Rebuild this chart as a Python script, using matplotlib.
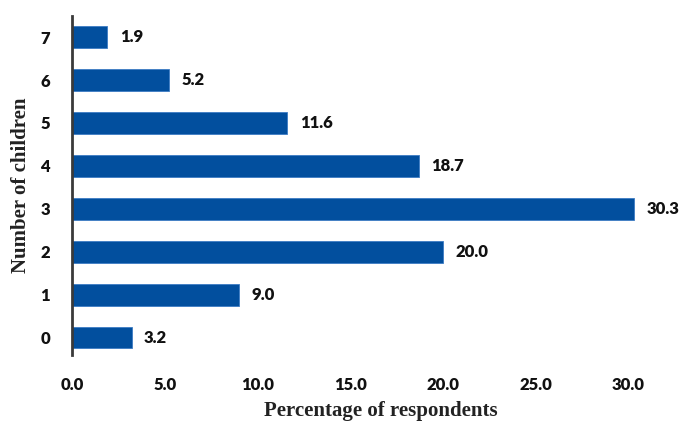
import matplotlib
matplotlib.use("Agg")
import matplotlib.pyplot as plt

children = ["0", "1", "2", "3", "4", "5", "6", "7"]
percent = [3.2, 9.0, 20.0, 30.3, 18.7, 11.6, 5.2, 1.9]
xticks = [0, 5, 10, 15, 20, 25, 30]

BAR_CLR = "#024f9e"
TXT_CLR = "#111111"

fig = plt.figure(figsize=(6.81, 4.21), dpi=100)
ax = fig.add_axes([0.106, 0.157, 0.871, 0.806])

pos = range(len(children))
bars = ax.barh(pos, percent, height=0.5, color=BAR_CLR,
               edgecolor="#3d7cc4", linewidth=0.6)
ax.bar_label(bars, labels=[f"{v:.1f}" for v in percent], padding=9,
             fontsize=12, fontweight="heavy", family="Lato", color=TXT_CLR)

ax.set_xlim(0, 32)
ax.set_ylim(-0.4, 7.5)
ax.set_yticks(list(pos))
ax.set_yticklabels(children)
ax.set_xticks(xticks)
ax.set_xticklabels([f"{t:.1f}" for t in xticks])

for lbl in ax.get_xticklabels() + ax.get_yticklabels():
    lbl.set_family("Lato")
    lbl.set_fontweight("heavy")
    lbl.set_fontsize(12)
    lbl.set_color(TXT_CLR)

ax.tick_params(axis="x", length=0, pad=16)
ax.tick_params(axis="y", length=0, pad=16)

for s in ["top", "right", "bottom"]:
    ax.spines[s].set_visible(False)
ax.spines["left"].set_color("#3a3a3a")
ax.spines["left"].set_linewidth(2)

ax.set_xlabel("Percentage of respondents", family="Liberation Serif",
              fontweight="bold", fontsize=15, color="#222222")
ax.xaxis.set_label_coords(0.52, -0.135)
ax.set_ylabel("Number of children", family="Liberation Serif",
              fontweight="bold", fontsize=15, color="#222222")
ax.yaxis.set_label_coords(-0.07, 0.5)

fig.savefig("out.png", dpi=100)
